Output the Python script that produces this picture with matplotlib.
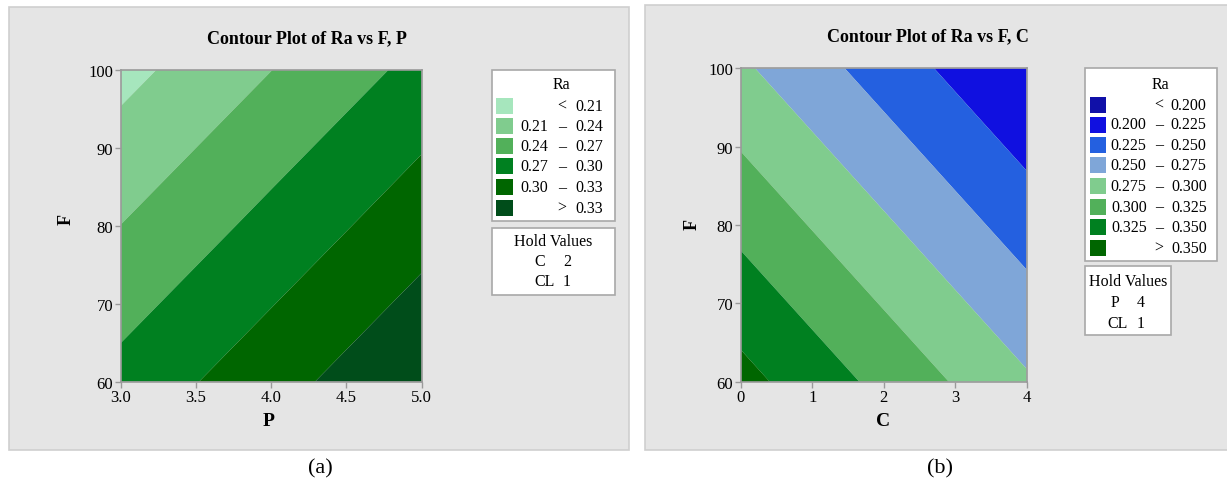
import matplotlib
matplotlib.use("Agg")
import matplotlib.pyplot as plt
from matplotlib.patches import Rectangle
import numpy as np

# ---------------- data ----------------
# Panel (a): Ra vs F, P  (hold C=2, CL=1)
P_vals = [3.0, 3.5, 4.0, 4.5, 5.0]
F_vals = [60, 70, 80, 90, 100]
# rows = F, cols = P
Ra_PF = [
    [0.2798, 0.2992, 0.3187, 0.3381, 0.3576],
    [0.2600, 0.2795, 0.2989, 0.3184, 0.3378],
    [0.2403, 0.2597, 0.2792, 0.2986, 0.3181],
    [0.2206, 0.2400, 0.2595, 0.2789, 0.2984],
    [0.2008, 0.2203, 0.2397, 0.2592, 0.2786],
]
levels_a = [0.0, 0.21, 0.24, 0.27, 0.30, 0.33, 1.0]
colors_a = ["#a6e6bd", "#80cc8e", "#52b05a", "#008020", "#006600", "#004d1a"]
legend_a = [("", "<", "0.21"), ("0.21", "–", "0.24"), ("0.24", "–", "0.27"),
            ("0.27", "–", "0.30"), ("0.30", "–", "0.33"), ("", ">", "0.33")]
P_ticks = [3.0, 3.5, 4.0, 4.5, 5.0]
F_ticks = [60, 70, 80, 90, 100]
hold_a = [("C", "2"), ("CL", "1")]

# Panel (b): Ra vs F, C  (hold P=4, CL=1)
C_vals = [0, 1, 2, 3, 4]
# rows = F, cols = C
Ra_CF = [
    [0.3581, 0.3381, 0.3182, 0.2982, 0.2782],
    [0.3383, 0.3184, 0.2984, 0.2784, 0.2585],
    [0.3186, 0.2986, 0.2786, 0.2587, 0.2387],
    [0.2988, 0.2788, 0.2589, 0.2389, 0.2189],
    [0.2790, 0.2591, 0.2391, 0.2191, 0.2003],
]
levels_b = [0.0, 0.200, 0.225, 0.250, 0.275, 0.300, 0.325, 0.350, 1.0]
colors_b = ["#1010a8", "#1010e0", "#2460e0", "#7fa6d8", "#80cc8e", "#52b05a", "#008020", "#006600"]
legend_b = [("", "<", "0.200"), ("0.200", "–", "0.225"), ("0.225", "–", "0.250"),
            ("0.250", "–", "0.275"), ("0.275", "–", "0.300"), ("0.300", "–", "0.325"),
            ("0.325", "–", "0.350"), ("", ">", "0.350")]
C_ticks = [0, 1, 2, 3, 4]
hold_b = [("P", "4"), ("CL", "1")]

# ---------------- figure ----------------
W, H = 1227, 485
FAM = ['Liberation Serif', 'DejaVu Serif']
plt.rcParams['font.family'] = FAM
fig = plt.figure(figsize=(W / 100, H / 100), dpi=100)
fig.patch.set_facecolor("white")

def fx(x):
    return x / W

def fy(y):
    return 1 - y / H

def rect(x0, y0, x1, y1, fc, ec, lw=1.0, z=0):
    fig.patches.append(Rectangle((fx(x0), fy(y1)), fx(x1) - fx(x0), fy(y0) - fy(y1),
                                 transform=fig.transFigure, facecolor=fc, edgecolor=ec,
                                 linewidth=lw, zorder=z))

def txt(x, y, s, ha="center", size=11.5, weight="normal", rot=0):
    fig.text(fx(x), fy(y), s, ha=ha, va="center", fontsize=size, fontweight=weight,
             rotation=rot, color="black", zorder=5, family=FAM)

# grey panels
rect(9, 8, 629, 451, "#e5e5e5", "#cfcfcf", 1.2, z=-2)
rect(645, 6, 1229, 451, "#e5e5e5", "#cfcfcf", 1.2, z=-2)

spine_col = "#9a9a9a"

def make_axes(x0, y0, x1, y1, xv, yv, Z, levels, colors, xticks, xfmt):
    ax = fig.add_axes([fx(x0), fy(y1), fx(x1) - fx(x0), fy(y0) - fy(y1)], zorder=3)
    ax.patch.set_alpha(0)
    X, Y = np.meshgrid(xv, yv)
    ax.contourf(X, Y, np.array(Z), levels=levels, colors=colors, antialiased=True)
    ax.set_xlim(xv[0], xv[-1])
    ax.set_ylim(yv[0], yv[-1])
    ax.set_xticks(xticks)
    ax.set_xticklabels([xfmt.format(t) for t in xticks], family=FAM, fontsize=12)
    ax.set_yticks(F_ticks)
    ax.set_yticklabels([str(t) for t in F_ticks], family=FAM, fontsize=12)
    ax.tick_params(direction="out", length=4, width=1, color=spine_col, pad=1.5)
    for s in ax.spines.values():
        s.set_color(spine_col)
        s.set_linewidth(1.2)
    return ax

axa = make_axes(120.7, 71, 421.7, 382.7, P_vals, F_vals, Ra_PF, levels_a, colors_a, P_ticks, "{:.1f}")
axb = make_axes(740.7, 69.3, 1026.7, 382.7, C_vals, F_vals, Ra_CF, levels_b, colors_b, C_ticks, "{:d}")

# titles and axis labels
txt(307, 39, "Contour Plot of Ra vs F, P", size=13, weight="bold")
txt(928, 37, "Contour Plot of Ra vs F, C", size=13, weight="bold")
txt(269, 422, "P", size=14, weight="bold")
txt(883, 422, "C", size=14, weight="bold")
txt(66, 220, "F", size=13, weight="bold", rot=90)
txt(692, 224, "F", size=13, weight="bold", rot=90)
txt(320, 469, "(a)", size=16)
txt(940, 469, "(b)", size=16)

# legend (a)
rect(491.7, 71, 615, 222, "white", "#a8a8a8", 1.2, z=1)
txt(561.5, 85, "Ra")
rows_a = [106.7, 127.3, 147.3, 167.3, 188.3, 208.7]
for (lo, sep, hi), c, yy in zip(legend_a, colors_a, rows_a):
    rect(496, yy - 8, 513, yy + 8, c, "none", 0, z=2)
    if lo:
        txt(548, yy, lo, ha="right")
    txt(562, yy, sep)
    txt(603, yy, hi, ha="right")
rect(491.7, 229, 615, 296, "white", "#a8a8a8", 1.2, z=1)
txt(553, 242, "Hold Values")
for (k, v), yy in zip(hold_a, [262, 282]):
    txt(545 if k == "CL" else 540, yy, k)
    txt(567, yy, v)

# legend (b)
rect(1085, 69.3, 1217, 261.7, "white", "#a8a8a8", 1.2, z=1)
txt(1160, 85, "Ra")
rows_b = [105.7, 125.5, 145.5, 166, 186.7, 207.5, 228.3, 249]
for (lo, sep, hi), c, yy in zip(legend_b, colors_b, rows_b):
    rect(1090, yy - 8, 1106, yy + 8, c, "none", 0, z=2)
    if lo:
        txt(1146.7, yy, lo, ha="right")
    txt(1159, yy, sep)
    txt(1206.7, yy, hi, ha="right")
rect(1085, 267, 1171, 336, "white", "#a8a8a8", 1.2, z=1)
txt(1128, 282, "Hold Values")
for (k, v), yy in zip(hold_b, [303, 324]):
    txt(1118 if k == "CL" else 1115, yy, k)
    txt(1141, yy, v)

fig.savefig("out.png", dpi=100)
